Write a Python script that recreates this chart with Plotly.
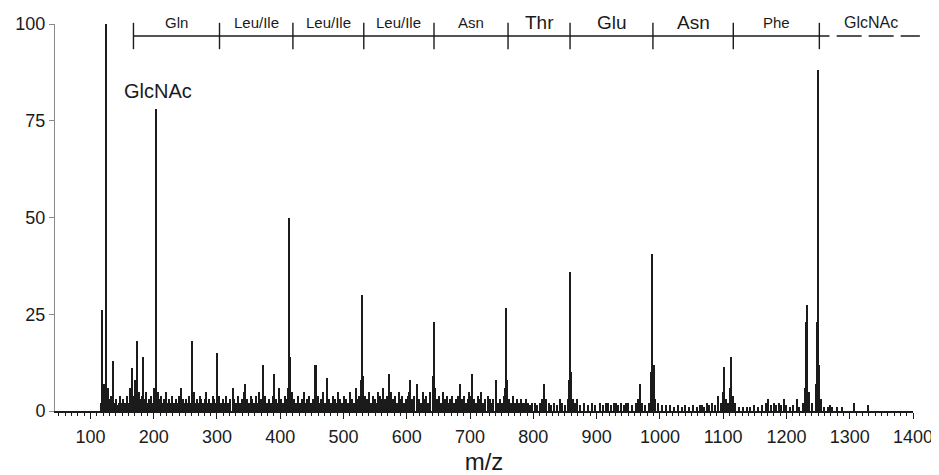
import plotly.graph_objects as go

# major fragment peaks (m/z, relative intensity %)
peak_mz = [118, 125, 136, 166, 174, 184, 204, 243, 261, 301, 344, 373, 390,
           414, 456, 474, 529, 572, 606, 643, 703, 741, 757, 817, 858, 969,
           988, 1102, 1113, 1233, 1250]
peak_rel = [26, 100, 13, 11, 18, 14, 78, 6, 18, 15, 7, 12, 9.5,
            50, 12, 8.5, 30, 9.5, 8, 23, 9.5, 8, 26.5, 7, 36, 7,
            40.5, 11.5, 14, 27.5, 88]

# small background peaks, read by hand in 100 m/z blocks
noise_mz = [
    116, 119, 121, 123, 127, 129, 131, 133, 135, 138, 140, 142, 145, 147, 149, 152, 154, 156, 158, 160,
    163, 165, 168, 170, 172, 176, 178, 180, 182, 186, 188, 190, 193, 196, 198, 201, 203, 206, 208,
    210, 212, 214, 217, 219, 222, 224, 227, 229, 232, 235, 237, 240, 246, 248, 251, 253, 256, 258,
    263, 265, 268, 270, 273, 275, 278, 281, 283, 286, 288, 291, 293, 296, 298, 303,
    306, 309, 312, 315, 318, 321, 325, 327, 330, 333, 336, 339, 342, 347, 350, 353, 356, 358, 361,
    364, 367, 370, 376, 379, 382, 385, 388, 393, 396, 398,
    401, 404, 407, 410, 412, 416, 419, 422, 425, 428, 431, 434, 437, 440, 443, 446, 449, 452, 459,
    462, 465, 468, 471, 477, 480, 483, 486, 489, 492, 495, 498,
    501, 504, 507, 510, 513, 516, 519, 522, 525, 527, 531, 534, 537, 540, 543, 546, 549, 552, 554,
    557, 560, 563, 566, 569, 575, 578, 581, 584, 587, 590, 593, 596, 599,
    602, 604, 609, 612, 616, 619, 622, 625, 628, 631, 634, 637, 641, 645, 648, 651, 654, 657, 660,
    663, 666, 669, 672, 675, 678, 681, 684, 687, 690, 693, 696, 699,
    701, 706, 709, 712, 715, 718, 721, 724, 728, 731, 734, 737, 744, 747, 750, 753, 755, 759, 762,
    765, 768, 771, 774, 777, 780, 783, 786, 789, 792, 795, 798,
    802, 806, 810, 814, 820, 824, 828, 833, 837, 842, 846, 850, 854, 856, 860, 863, 866, 869, 874,
    880, 886, 893, 898,
    905, 910, 915, 918, 922, 927, 930, 934, 938, 943, 947, 950, 956, 962, 966, 972, 976, 982, 986,
    990, 993, 997,
    1003, 1010, 1016, 1022, 1028, 1035, 1040, 1046, 1052, 1058, 1063, 1066, 1070, 1075, 1078, 1083,
    1087, 1092, 1096, 1100, 1104,
    1108, 1111, 1115, 1119, 1125, 1131, 1137, 1142, 1148, 1155, 1162, 1167, 1171, 1175, 1180, 1184,
    1188, 1192, 1196, 1200,
    1205, 1210, 1216, 1220, 1226, 1229, 1231, 1235, 1240, 1246, 1248, 1252, 1255, 1260, 1266, 1269,
    1272, 1280, 1288, 1307, 1329,
]
noise_rel = [
    2, 5, 7, 4, 6, 3, 2, 4, 3, 2, 3, 1.5, 2, 4, 2, 3, 2, 1.5, 4, 2,
    6, 3, 4, 8, 3, 5, 3, 2, 4, 3, 5, 2, 3, 4, 2, 6, 12, 5, 3,
    2, 4, 2, 3, 5, 2, 3, 2, 4, 2, 3, 2, 4, 3, 2, 3, 2, 4, 2,
    5, 2, 3, 2, 4, 3, 2, 3, 5, 2, 3, 2, 4, 3, 2, 4,
    2, 3, 2, 4, 2, 3, 6, 3, 2, 4, 2, 3, 5, 3, 2, 4, 3, 2, 4,
    2, 5, 3, 4, 2, 3, 2, 4, 3, 2, 6,
    3, 2, 4, 3, 6, 14, 5, 3, 2, 4, 2, 3, 5, 2, 3, 4, 2, 3, 4,
    2, 3, 5, 2, 3, 2, 4, 3, 2, 5, 3, 2,
    4, 3, 2, 5, 3, 2, 6, 3, 4, 8, 9, 4, 3, 5, 2, 4, 3, 2, 5,
    4, 3, 6, 3, 4, 5, 3, 4, 2, 5, 3, 4, 2, 3,
    4, 5, 3, 4, 7, 3, 2, 5, 3, 4, 2, 5, 9, 6, 3, 4, 2, 5, 3,
    4, 2, 3, 4, 2, 3, 4, 7, 3, 4, 2, 3, 5,
    4, 3, 2, 4, 3, 5, 2, 3, 4, 3, 2, 3, 2, 3, 2, 4, 6, 8, 3,
    2, 4, 2, 3, 2, 3, 2, 2, 3, 2, 1.5, 2,
    2, 1.5, 2, 3, 3, 2, 1.5, 2, 1.5, 3, 2, 1.5, 3, 8, 10, 3, 2, 3, 1.5,
    2, 1.5, 2, 1.5,
    2, 1.5, 2, 2, 1.5, 2, 2, 1.5, 2, 1.5, 2, 2, 1.5, 2, 3, 2, 1.5, 2, 10,
    12, 3, 2,
    1.5, 1.5, 1.5, 1, 1.5, 1, 1.5, 1, 1.5, 1, 1.5, 1.5, 1, 2, 1.5, 2,
    1.5, 4, 2, 5, 3,
    2, 6, 4, 2, 1, 1, 1, 1, 1.5, 1, 1.5, 2, 3, 1.5, 2, 1.5,
    2, 1.5, 3, 1.5,
    1, 1.5, 3, 1, 2, 6, 23, 5, 2, 7, 23, 12, 3, 1, 1, 1.5,
    1, 1, 1, 2, 1.5,
]

# sequence ladder across the top (m/z boundaries and residue names)
ladder_mz = [168, 304, 420, 532, 643, 760, 858, 989, 1116, 1252]
ladder_res = ["Gln", "Leu/Ile", "Leu/Ile", "Leu/Ile", "Asn", "Thr", "Glu", "Asn", "Phe"]
ladder_big = [False, False, False, False, False, True, True, True, False]

FONT = "Arial, Liberation Sans, sans-serif"
INK = "#1b1b1b"

fig = go.Figure()
fig.add_trace(go.Bar(x=noise_mz, y=noise_rel, width=1.6,
                     marker=dict(color=INK, line=dict(width=0)), showlegend=False))
fig.add_trace(go.Bar(x=peak_mz, y=peak_rel, width=2.6,
                     marker=dict(color=INK, line=dict(width=0)), showlegend=False))

# ladder shapes
y_line = 0.969
shapes = [dict(type="line", xref="x", yref="paper", x0=ladder_mz[0], x1=1268,
               y0=y_line, y1=y_line, line=dict(color=INK, width=1.4))]
for m in ladder_mz:
    shapes.append(dict(type="line", xref="x", yref="paper", x0=m, x1=m,
                       y0=0.935, y1=1.003, line=dict(color=INK, width=1.4)))
shapes.append(dict(type="line", xref="paper", yref="paper", x0=0.911, x1=1.008,
                   y0=y_line, y1=y_line, line=dict(color=INK, width=1.4, dash="25px,7px")))

annotations = []
for i, res in enumerate(ladder_res):
    annotations.append(dict(x=(ladder_mz[i] + ladder_mz[i + 1]) / 2, y=1.004,
                            xref="x", yref="paper", text=res, showarrow=False,
                            font=dict(family=FONT, size=19 if ladder_big[i] else 15, color=INK),
                            xanchor="center", yanchor="middle"))
annotations.append(dict(x=0.951, y=1.004, xref="paper", yref="paper", text="GlcNAc",
                        showarrow=False, xanchor="center", yanchor="middle",
                        font=dict(family=FONT, size=16, color=INK)))
annotations.append(dict(x=206, y=82.7, xref="x", yref="y", text="GlcNAc",
                        showarrow=False, font=dict(family=FONT, size=20, color=INK)))

# page body adds an 8px offset, so the figure is sized to the visible area
fig.update_layout(
    width=931, height=467,
    margin=dict(l=47, r=26, t=16, b=64),
    paper_bgcolor="white", plot_bgcolor="white",
    barmode="overlay", bargap=0,
    shapes=shapes, annotations=annotations,
    font=dict(family=FONT, size=18, color=INK),
    xaxis=dict(range=[44, 1400], showgrid=False, zeroline=False, automargin=False,
               showline=True, linecolor=INK, linewidth=1.5,
               ticks="outside", ticklen=6, tickwidth=1.2, tickcolor=INK,
               tick0=0, dtick=100, tickfont=dict(size=18), ticklabelstandoff=3,
               minor=dict(ticks="outside", dtick=10, ticklen=3, tickcolor=INK, tickwidth=1.2),
               title=dict(text="m/z", font=dict(size=24), standoff=8)),
    yaxis=dict(range=[0, 100], showgrid=False, zeroline=False, automargin=False,
               showline=True, linecolor="#8a8a8a", linewidth=1,
               ticks="outside", ticklen=5, tickcolor="#8a8a8a",
               tickvals=[0, 25, 50, 75, 100], tickfont=dict(size=18)),
)

fig.write_html("out.html")
